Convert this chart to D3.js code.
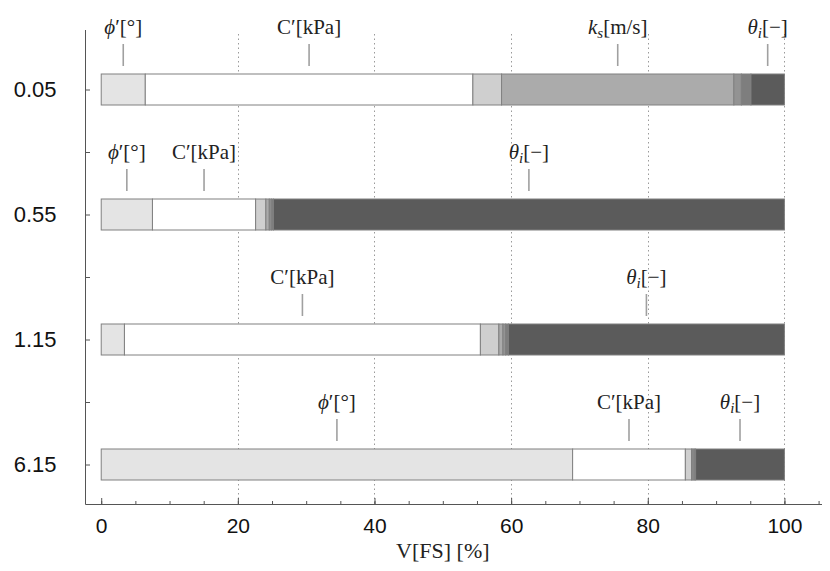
<!DOCTYPE html>
<html><head><meta charset="utf-8">
<script src="https://cdn.jsdelivr.net/npm/d3@7"></script>
<style>body{margin:0;background:#fff}svg{display:block}</style>
</head><body>
<svg id="c" width="830" height="571"></svg>
<script>
// ---- data ----
const categories = ["0.05", "0.55", "1.15", "6.15"];
const paramKeys = ["phi", "c", "p3", "ks", "p5", "p6", "theta"];
// share of V[FS] (%) per parameter, one value per category
const phiVals   = [6.45, 7.5, 3.4, 69.0];
const cVals     = [47.95, 15.1, 52.1, 16.5];
const p3Vals    = [4.2, 1.5, 2.7, 0.9];
const ksVals    = [34.0, 0.5, 0.6, 0.2];
const p5Vals    = [1.1, 0.3, 0.4, 0.2];
const p6Vals    = [1.4, 0.3, 0.4, 0.2];
const thetaVals = [4.9, 74.8, 40.4, 13.0];
const labelThreshold = 4.5; // segments at least this wide get a label
const xTicks = [0, 20, 40, 60, 80, 100];
const xMinorTicks = [0,5,10,15,20,25,30,35,40,45,50,55,60,65,70,75,80,85,90,95,100,105];

const seriesVals = {phi: phiVals, c: cVals, p3: p3Vals, ks: ksVals, p5: p5Vals, p6: p6Vals, theta: thetaVals};
const colors = {phi: "#e4e4e4", c: "#ffffff", p3: "#cfcfcf", ks: "#ababab", p5: "#939393", p6: "#7e7e7e", theta: "#5b5b5b"};

const svg = d3.select("#c");
const x = d3.scaleLinear().domain([-2.3, 105.5]).range([85.5, 822]);
const y = d3.scaleLinear().domain([0, 3]).range([89.5, 464.5]);
const axisY = 504.5, topY = 30;
const barH = 31;

// grid
svg.append("g").selectAll("line").data(xTicks.slice(1)).join("line")
  .attr("x1", d => Math.round(x(d)) + 0.5).attr("x2", d => Math.round(x(d)) + 0.5)
  .attr("y1", topY + 4).attr("y2", axisY)
  .attr("stroke", "#9a9a9a").attr("stroke-width", 1).attr("stroke-dasharray", "1.5,3");

// stacked data
const stack = d3.stack().keys(paramKeys)(categories.map((c, i) => {
  const o = {cat: c, idx: i};
  paramKeys.forEach(k => o[k] = seriesVals[k][i]);
  return o;
}));

const segs = [];
stack.forEach(layer => layer.forEach(d => {
  segs.push({key: layer.key, idx: d.data.idx, x0: d[0], x1: d[1]});
}));

svg.append("g").selectAll("rect").data(segs).join("rect")
  .attr("x", d => x(d.x0)).attr("width", d => Math.max(0, x(d.x1) - x(d.x0)))
  .attr("y", d => y(d.idx) - barH / 2).attr("height", barH)
  .attr("fill", d => colors[d.key]).attr("stroke", "#808080").attr("stroke-width", 1);

// labels
const labG = svg.append("g");
const labeled = segs.filter(d => d.x1 - d.x0 >= labelThreshold);
labeled.forEach(d => {
  const cx = x((d.x0 + d.x1) / 2);
  const top = y(d.idx) - barH / 2;
  labG.append("line").attr("x1", cx).attr("x2", cx).attr("y1", top - 30).attr("y2", top - 8)
    .attr("stroke", "#a0a0a0").attr("stroke-width", 1.6);
  const t = labG.append("text").attr("x", cx).attr("y", top - 40).attr("text-anchor", "middle")
    .attr("font-family", "'Liberation Serif', 'Times New Roman', serif").attr("font-size", 21).attr("fill", "#222");
  if (d.key === "phi") {
    t.append("tspan").attr("font-style", "italic").text("ϕ");
    t.append("tspan").text("′[°]");
  } else if (d.key === "c") {
    t.append("tspan").text("C′[kPa]");
  } else if (d.key === "ks") {
    t.append("tspan").attr("font-style", "italic").text("k");
    t.append("tspan").attr("font-style", "italic").attr("font-size", 15).attr("dy", 4).text("s");
    t.append("tspan").attr("dy", -4).text("[m/s]");
  } else if (d.key === "theta") {
    t.append("tspan").attr("font-style", "italic").text("θ");
    t.append("tspan").attr("font-style", "italic").attr("font-size", 15).attr("dy", 4).text("i");
    t.append("tspan").attr("dy", -4).text("[−]");
  }
});

// x axis
const gx = svg.append("g").attr("transform", `translate(0,${axisY})`);
gx.call(d3.axisBottom(x).tickValues(xMinorTicks).tickSize(-3.5).tickFormat(""));
gx.call(g => g.select(".domain").remove());
const gx2 = svg.append("g").attr("transform", `translate(0,${axisY})`)
  .call(d3.axisBottom(x).tickValues(xTicks).tickSize(-6.5).tickPadding(14).tickFormat(d3.format("d")));
gx2.select(".domain").remove();
gx2.selectAll("text").attr("font-family", "'Liberation Sans', Arial, sans-serif").attr("font-size", 21).attr("fill", "#111");
svg.selectAll("g .tick line").attr("stroke", "#444");
svg.append("line").attr("x1", x.range()[0]).attr("x2", x.range()[1]).attr("y1", axisY).attr("y2", axisY)
  .attr("stroke", "#555").attr("stroke-width", 1);

// y axis
const gy = svg.append("g").attr("transform", `translate(${x.range()[0]},0)`);
gy.call(d3.axisLeft(y).tickValues([0.5, 1.5, 2.5]).tickSize(-4.5).tickFormat(""));
gy.select(".domain").remove();
const gy2 = svg.append("g").attr("transform", `translate(${x.range()[0]},0)`)
  .call(d3.axisLeft(y).tickValues([0, 1, 2, 3]).tickSize(-4.5).tickPadding(29).tickFormat(i => categories[i]));
gy2.select(".domain").remove();
gy2.selectAll("text").attr("font-family", "'Liberation Sans', Arial, sans-serif").attr("font-size", 22).attr("fill", "#111");
svg.selectAll(".tick line").attr("stroke", "#555");
svg.append("line").attr("x1", x.range()[0]).attr("x2", x.range()[0]).attr("y1", topY).attr("y2", axisY)
  .attr("stroke", "#555").attr("stroke-width", 1);

// axis title
svg.append("text").attr("x", x(50)).attr("y", 558).attr("text-anchor", "middle")
  .attr("font-family", "'Liberation Serif', 'Times New Roman', serif").attr("font-size", 22).attr("fill", "#222")
  .text("V[FS] [%]");
</script>
</body></html>
